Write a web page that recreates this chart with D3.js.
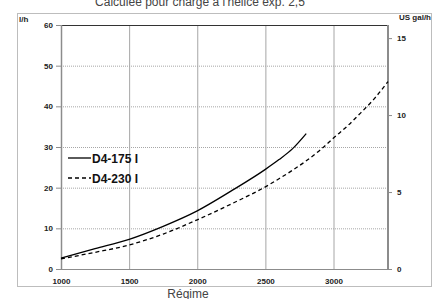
<!DOCTYPE html>
<html>
<head>
<meta charset="utf-8">
<script src="https://cdn.jsdelivr.net/npm/d3@7"></script>
<style>
  body { margin: 0; background: #fff; }
  text { font-family: "Liberation Sans", Arial, sans-serif; }
</style>
</head>
<body>
<script>
  // data
  let rpm175 = [1000, 1250, 1500, 1750, 2000, 2250, 2500, 2600, 2700, 2800];
  let lph175 = [2.7, 5.0, 7.3, 10.5, 14.3, 19.2, 24.5, 26.9, 29.6, 33.3];
  let rpm230 = [1000, 1250, 1500, 1750, 2000, 2250, 2500, 2600, 2700, 2800, 2900, 3000, 3100, 3200, 3300, 3400];
  let lph230 = [2.5, 4.1, 5.9, 8.6, 12.1, 16.0, 20.2, 22.2, 24.3, 26.6, 29.2, 32.2, 35.1, 38.4, 41.9, 46.1];
  let xTicks = [1000, 1500, 2000, 2500, 3000];
  let yTicks = [0, 10, 20, 30, 40, 50, 60];
  let galTicks = [0, 5, 10, 15];
  let seriesNames = ["D4-175 I", "D4-230 I"];

  let svg = d3.select("body").append("svg")
    .attr("width", 443)
    .attr("height", 299);

  // outer frame
  svg.append("rect")
    .attr("x", 17.5).attr("y", 13.5)
    .attr("width", 414).attr("height", 273)
    .attr("fill", "none").attr("stroke", "#bdbdbd");

  let x = d3.scaleLinear().domain([1000, 3400]).range([61, 388]);
  let y = d3.scaleLinear().domain([0, 60]).range([269, 25]);
  let y2 = d3.scaleLinear().domain([0, 60 / 3.785]).range([269, 25]);

  // vertical grid
  svg.append("g").selectAll("line")
    .data(xTicks.slice(1))
    .enter().append("line")
    .attr("x1", (d) => x(d) + 0.5).attr("x2", (d) => x(d) + 0.5)
    .attr("y1", y(60)).attr("y2", y(0))
    .attr("stroke", "#a6a6a6").attr("stroke-width", 1);

  // horizontal grid (dotted)
  svg.append("g").selectAll("line")
    .data(yTicks.slice(1, -1))
    .enter().append("line")
    .attr("x1", x(1000)).attr("x2", x(3400))
    .attr("y1", (d) => y(d) + 0.5).attr("y2", (d) => y(d) + 0.5)
    .attr("stroke", "#a6a6a6").attr("stroke-dasharray", "1,1");

  // plot frame
  svg.append("line")
    .attr("x1", x(1000)).attr("x2", x(3400))
    .attr("y1", y(60) + 0.5).attr("y2", y(60) + 0.5)
    .attr("stroke", "#333");
  svg.append("line")
    .attr("x1", x(1000)).attr("x2", x(3400))
    .attr("y1", y(0) + 0.5).attr("y2", y(0) + 0.5)
    .attr("stroke", "#8c8c8c");
  svg.append("line")
    .attr("x1", x(1000) + 0.5).attr("x2", x(1000) + 0.5)
    .attr("y1", y(60)).attr("y2", y(0))
    .attr("stroke", "#8c8c8c").attr("stroke-width", 1.5);
  svg.append("line")
    .attr("x1", x(3400)).attr("x2", x(3400))
    .attr("y1", y(60)).attr("y2", y(0))
    .attr("stroke", "#8c8c8c").attr("stroke-width", 2);

  // left axis
  let yAxis = d3.axisLeft(y).tickValues(yTicks).tickSize(5).tickPadding(3);
  let gl = svg.append("g").attr("transform", "translate(" + x(1000) + ",0)").call(yAxis);
  // right axis
  let yAxis2 = d3.axisRight(y2).tickValues(galTicks).tickSize(4).tickPadding(5);
  let gr = svg.append("g").attr("transform", "translate(" + x(3400) + ",0)").call(yAxis2);
  // bottom axis labels
  let xAxis = d3.axisBottom(x).tickValues(xTicks).tickFormat(d3.format("d")).tickSize(0).tickPadding(9);
  let gb = svg.append("g").attr("transform", "translate(0," + y(0) + ")").call(xAxis);

  [gl, gr, gb].forEach((g) => {
    g.select(".domain").remove();
    g.selectAll(".tick line").attr("stroke", "#8c8c8c");
    g.selectAll("text")
      .attr("font-size", 8).attr("font-weight", "bold")
      .attr("fill", "#222").attr("font-family", "Liberation Sans, Arial, sans-serif");
  });
  gb.selectAll(".tick line").remove();

  // curves
  let line = d3.line()
    .x((d) => x(d[0]))
    .y((d) => y(d[1]))
    .curve(d3.curveMonotoneX);

  svg.append("path")
    .datum(d3.zip(rpm175, lph175))
    .attr("d", line)
    .attr("fill", "none").attr("stroke", "#000").attr("stroke-width", 1.3);
  svg.append("path")
    .datum(d3.zip(rpm230, lph230))
    .attr("d", line)
    .attr("fill", "none").attr("stroke", "#000").attr("stroke-width", 1.3)
    .attr("stroke-dasharray", "4,3");

  // legend
  let legend = svg.append("g");
  seriesNames.forEach((name, i) => {
    let ly = 158 + i * 20;
    legend.append("line")
      .attr("x1", 68).attr("x2", 91).attr("y1", ly).attr("y2", ly)
      .attr("stroke", "#000").attr("stroke-width", 1.3)
      .attr("stroke-dasharray", i === 0 ? null : "4,3");
    legend.append("text")
      .attr("x", 92).attr("y", ly + 4.5)
      .attr("font-size", 12).attr("font-weight", "bold")
      .attr("fill", "#111")
      .text(name);
  });

  // titles
  svg.append("text")
    .attr("x", 200).attr("y", 6)
    .attr("text-anchor", "middle")
    .attr("font-size", 12).attr("fill", "#444")
    .text("Calculée pour charge à l'hélice exp. 2,5");
  svg.append("text")
    .attr("x", 188).attr("y", 298)
    .attr("text-anchor", "middle")
    .attr("font-size", 12).attr("fill", "#444")
    .text("Régime");
  svg.append("text")
    .attr("x", 19).attr("y", 22)
    .attr("font-size", 8).attr("font-weight", "bold").attr("fill", "#222")
    .text("l/h");
  svg.append("text")
    .attr("x", 399).attr("y", 20)
    .attr("font-size", 8).attr("font-weight", "bold").attr("fill", "#222")
    .text("US gal/h");
</script>
</body>
</html>
